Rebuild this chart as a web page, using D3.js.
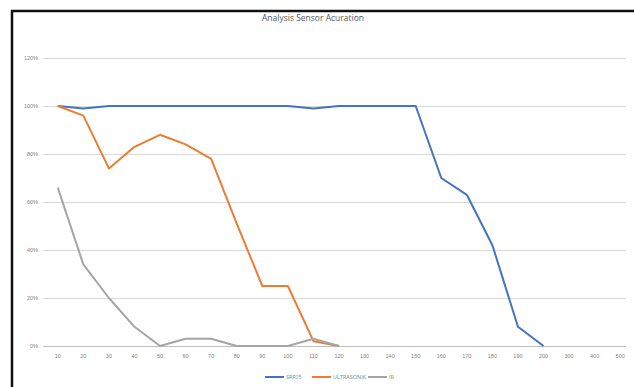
<!DOCTYPE html>
<html>
<head>
<meta charset="utf-8">
<script src="https://cdn.jsdelivr.net/npm/d3@7"></script>
<style>
  html, body { margin: 0; padding: 0; background: #fff; }
  svg { display: block; font-family: "Open Sans", "Liberation Sans", sans-serif; }
</style>
</head>
<body>
<svg id="chart" width="634" height="387"></svg>
<script>
// Distance categories (cm) along the horizontal axis
const categories = ["10","20","30","40","50","60","70","80","90","100","110","120","130","140","150","160","170","180","190","200","300","400","500"];

// Detection accuracy (%) per sensor; null = not measured
const srfValues   = [100, 99, 100, 100, 100, 100, 100, 100, 100, 100, 99, 100, 100, 100, 100, 70, 63, 42, 8, 0, null, null, null];
const ultraValues = [100, 96, 74, 83, 88, 84, 78, 51, 25, 25, 2, 0, null, null, null, null, null, null, null, null, null, null, null];
const irValues    = [66, 34, 20, 8, 0, 3, 3, 0, 0, 0, 3, 0, null, null, null, null, null, null, null, null, null, null, null];

const yTicks = [0, 20, 40, 60, 80, 100, 120];
const seriesNames = ["SRF05", "ULTRASONIK", "IR"];
const seriesColors = ["#4472C4", "#ED7D31", "#A5A5A5"];

const svg = d3.select("#chart");
const W = 634, H = 387;
const plot = { left: 45, right: 633, top: 58, bottom: 346 };

// Frame around the chart
svg.append("path")
  .attr("d", `M12,${H} L12,11 L${W},11`)
  .attr("fill", "none").attr("stroke", "#111").attr("stroke-width", 2.5);

svg.append("text")
  .attr("x", 313).attr("y", 21)
  .attr("text-anchor", "middle")
  .attr("font-size", 8.5).attr("fill", "#595959")
  .text("Analysis Sensor Acuration");

const x = d3.scaleBand().domain(categories).range([plot.left, plot.right]);
const y = d3.scaleLinear().domain([0, 120]).range([plot.bottom, plot.top]);

// Horizontal gridlines with percentage labels
const yAxis = d3.axisLeft(y).tickValues(yTicks)
  .tickSize(-(plot.right - 3 - plot.left - 2))
  .tickFormat(d => d + "%");
const gy = svg.append("g").attr("transform", `translate(${plot.left - 2},0)`).call(yAxis);
gy.select(".domain").remove();
gy.selectAll(".tick line").attr("stroke", "#d9d9d9").attr("stroke-width", 1);
gy.selectAll(".tick text").attr("font-size", 5.5).attr("fill", "#7f7f7f").attr("x", -5);
gy.selectAll(".tick").filter(d => d === 0).select("line").attr("stroke", "#bfbfbf");

// Category labels
const xAxis = d3.axisBottom(x).tickSize(0).tickPadding(8);
const gx = svg.append("g").attr("transform", `translate(0,${plot.bottom})`).call(xAxis);
gx.select(".domain").remove();
gx.selectAll(".tick text").attr("font-size", 5.5).attr("fill", "#7f7f7f");

// Series lines
const line = d3.line()
  .defined(d => d.v !== null)
  .x(d => x(d.c) + x.bandwidth() / 2)
  .y(d => y(d.v));

[srfValues, ultraValues, irValues].forEach((vals, i) => {
  const pts = categories.map((c, k) => ({ c, v: vals[k] }));
  svg.append("path")
    .datum(pts)
    .attr("fill", "none")
    .attr("stroke", seriesColors[i])
    .attr("stroke-width", 2)
    .attr("stroke-linejoin", "round")
    .attr("d", line);
});

// Legend
const legendItems = [
  { x: 265, w: 22 },
  { x: 312, w: 44 },
  { x: 368, w: 10 }
];
const lg = svg.append("g").attr("transform", "translate(0,377)");
seriesNames.forEach((name, i) => {
  const g = lg.append("g").attr("transform", `translate(${legendItems[i].x},0)`);
  g.append("line").attr("x1", 0).attr("x2", 19).attr("y1", 0).attr("y2", 0)
    .attr("stroke", seriesColors[i]).attr("stroke-width", 2);
  g.append("text").attr("x", 21).attr("y", 2).attr("font-size", 5.5)
    .attr("fill", "#7f7f7f").text(name);
});
</script>
</body>
</html>
